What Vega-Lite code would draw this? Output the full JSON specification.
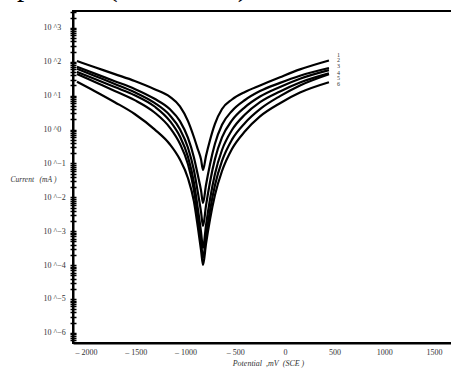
{
"$schema": "https://vega.github.io/schema/vega-lite/v6.json",
"width": 380, "height": 332,
"autosize": {"type": "none"},
"padding": {"left": 73, "top": 11, "right": 0, "bottom": 26},
"background": "white",
"title": {"text": "compounds (not shown)", "anchor": "start", "frame": "group", "font": "Liberation Serif", "fontSize": 29, "fontWeight": "normal", "color": "black", "baseline": "alphabetic", "offset": 0, "dx": -106, "dy": 17},
"config": {"view": {"stroke": "black", "strokeWidth": 2}},
"datasets": {
"curves": [
{"curve":"1","potential_mV":-2090,"log10_current_mA":2.024},{"curve":"1","potential_mV":-1910,"log10_current_mA":1.841},{"curve":"1","potential_mV":-1710,"log10_current_mA":1.637},{"curve":"1","potential_mV":-1510,"log10_current_mA":1.434},{"curve":"1","potential_mV":-1310,"log10_current_mA":1.192},{"curve":"1","potential_mV":-1155,"log10_current_mA":0.964},{"curve":"1","potential_mV":-1055,"log10_current_mA":0.684},{"curve":"1","potential_mV":-975,"log10_current_mA":0.256},{"curve":"1","potential_mV":-915,"log10_current_mA":-0.219},{"curve":"1","potential_mV":-875,"log10_current_mA":-0.582},{"curve":"1","potential_mV":-843,"log10_current_mA":-0.880},{"curve":"1","potential_mV":-823,"log10_current_mA":-1.193},{"curve":"1","potential_mV":-793,"log10_current_mA":-0.780},{"curve":"1","potential_mV":-753,"log10_current_mA":-0.314},{"curve":"1","potential_mV":-703,"log10_current_mA":0.168},{"curve":"1","potential_mV":-632,"log10_current_mA":0.607},{"curve":"1","potential_mV":-532,"log10_current_mA":0.888},{"curve":"1","potential_mV":-401,"log10_current_mA":1.112},{"curve":"1","potential_mV":-250,"log10_current_mA":1.304},{"curve":"1","potential_mV":-49,"log10_current_mA":1.546},{"curve":"1","potential_mV":152,"log10_current_mA":1.776},{"curve":"1","potential_mV":443,"log10_current_mA":2.039},
{"curve":"2","potential_mV":-2090,"log10_current_mA":1.856},{"curve":"2","potential_mV":-1910,"log10_current_mA":1.652},{"curve":"2","potential_mV":-1710,"log10_current_mA":1.428},{"curve":"2","potential_mV":-1510,"log10_current_mA":1.201},{"curve":"2","potential_mV":-1310,"log10_current_mA":0.908},{"curve":"2","potential_mV":-1155,"log10_current_mA":0.598},{"curve":"2","potential_mV":-1055,"log10_current_mA":0.250},{"curve":"2","potential_mV":-975,"log10_current_mA":-0.240},{"curve":"2","potential_mV":-915,"log10_current_mA":-0.815},{"curve":"2","potential_mV":-875,"log10_current_mA":-1.344},{"curve":"2","potential_mV":-843,"log10_current_mA":-1.795},{"curve":"2","potential_mV":-823,"log10_current_mA":-2.167},{"curve":"2","potential_mV":-793,"log10_current_mA":-1.636},{"curve":"2","potential_mV":-753,"log10_current_mA":-1.028},{"curve":"2","potential_mV":-703,"log10_current_mA":-0.420},{"curve":"2","potential_mV":-632,"log10_current_mA":0.141},{"curve":"2","potential_mV":-532,"log10_current_mA":0.551},{"curve":"2","potential_mV":-401,"log10_current_mA":0.873},{"curve":"2","potential_mV":-250,"log10_current_mA":1.136},{"curve":"2","potential_mV":-49,"log10_current_mA":1.378},{"curve":"2","potential_mV":152,"log10_current_mA":1.590},{"curve":"2","potential_mV":443,"log10_current_mA":1.818},
{"curve":"3","potential_mV":-2090,"log10_current_mA":1.797},{"curve":"3","potential_mV":-1910,"log10_current_mA":1.584},{"curve":"3","potential_mV":-1710,"log10_current_mA":1.348},{"curve":"3","potential_mV":-1510,"log10_current_mA":1.103},{"curve":"3","potential_mV":-1310,"log10_current_mA":0.787},{"curve":"3","potential_mV":-1155,"log10_current_mA":0.415},{"curve":"3","potential_mV":-1055,"log10_current_mA":0.011},{"curve":"3","potential_mV":-975,"log10_current_mA":-0.529},{"curve":"3","potential_mV":-915,"log10_current_mA":-1.193},{"curve":"3","potential_mV":-875,"log10_current_mA":-1.854},{"curve":"3","potential_mV":-843,"log10_current_mA":-2.427},{"curve":"3","potential_mV":-823,"log10_current_mA":-2.846},{"curve":"3","potential_mV":-793,"log10_current_mA":-2.247},{"curve":"3","potential_mV":-753,"log10_current_mA":-1.553},{"curve":"3","potential_mV":-703,"log10_current_mA":-0.872},{"curve":"3","potential_mV":-632,"log10_current_mA":-0.231},{"curve":"3","potential_mV":-532,"log10_current_mA":0.271},{"curve":"3","potential_mV":-401,"log10_current_mA":0.663},{"curve":"3","potential_mV":-250,"log10_current_mA":0.976},{"curve":"3","potential_mV":-49,"log10_current_mA":1.260},{"curve":"3","potential_mV":152,"log10_current_mA":1.502},{"curve":"3","potential_mV":443,"log10_current_mA":1.756},
{"curve":"4","potential_mV":-2090,"log10_current_mA":1.705},{"curve":"4","potential_mV":-1910,"log10_current_mA":1.493},{"curve":"4","potential_mV":-1710,"log10_current_mA":1.254},{"curve":"4","potential_mV":-1510,"log10_current_mA":1.015},{"curve":"4","potential_mV":-1310,"log10_current_mA":0.681},{"curve":"4","potential_mV":-1155,"log10_current_mA":0.250},{"curve":"4","potential_mV":-1055,"log10_current_mA":-0.207},{"curve":"4","potential_mV":-975,"log10_current_mA":-0.798},{"curve":"4","potential_mV":-915,"log10_current_mA":-1.550},{"curve":"4","potential_mV":-875,"log10_current_mA":-2.336},{"curve":"4","potential_mV":-843,"log10_current_mA":-3.020},{"curve":"4","potential_mV":-823,"log10_current_mA":-3.496},{"curve":"4","potential_mV":-793,"log10_current_mA":-2.828},{"curve":"4","potential_mV":-753,"log10_current_mA":-2.064},{"curve":"4","potential_mV":-703,"log10_current_mA":-1.311},{"curve":"4","potential_mV":-632,"log10_current_mA":-0.603},{"curve":"4","potential_mV":-532,"log10_current_mA":-0.013},{"curve":"4","potential_mV":-401,"log10_current_mA":0.445},{"curve":"4","potential_mV":-250,"log10_current_mA":0.811},{"curve":"4","potential_mV":-49,"log10_current_mA":1.127},{"curve":"4","potential_mV":152,"log10_current_mA":1.390},{"curve":"4","potential_mV":443,"log10_current_mA":1.658},
{"curve":"5","potential_mV":-2090,"log10_current_mA":1.640},{"curve":"5","potential_mV":-1910,"log10_current_mA":1.404},{"curve":"5","potential_mV":-1710,"log10_current_mA":1.142},{"curve":"5","potential_mV":-1510,"log10_current_mA":0.870},{"curve":"5","potential_mV":-1310,"log10_current_mA":0.504},{"curve":"5","potential_mV":-1155,"log10_current_mA":0.052},{"curve":"5","potential_mV":-1055,"log10_current_mA":-0.420},{"curve":"5","potential_mV":-975,"log10_current_mA":-1.016},{"curve":"5","potential_mV":-915,"log10_current_mA":-1.781},{"curve":"5","potential_mV":-875,"log10_current_mA":-2.601},{"curve":"5","potential_mV":-843,"log10_current_mA":-3.322},{"curve":"5","potential_mV":-823,"log10_current_mA":-3.791},{"curve":"5","potential_mV":-793,"log10_current_mA":-3.147},{"curve":"5","potential_mV":-753,"log10_current_mA":-2.392},{"curve":"5","potential_mV":-703,"log10_current_mA":-1.645},{"curve":"5","potential_mV":-632,"log10_current_mA":-0.925},{"curve":"5","potential_mV":-532,"log10_current_mA":-0.296},{"curve":"5","potential_mV":-401,"log10_current_mA":0.197},{"curve":"5","potential_mV":-250,"log10_current_mA":0.604},{"curve":"5","potential_mV":-49,"log10_current_mA":0.988},{"curve":"5","potential_mV":152,"log10_current_mA":1.304},{"curve":"5","potential_mV":443,"log10_current_mA":1.635},
{"curve":"6","potential_mV":-2090,"log10_current_mA":1.413},{"curve":"6","potential_mV":-1910,"log10_current_mA":1.133},{"curve":"6","potential_mV":-1710,"log10_current_mA":0.808},{"curve":"6","potential_mV":-1510,"log10_current_mA":0.460},{"curve":"6","potential_mV":-1310,"log10_current_mA":0.005},{"curve":"6","potential_mV":-1155,"log10_current_mA":-0.441},{"curve":"6","potential_mV":-1055,"log10_current_mA":-0.886},{"curve":"6","potential_mV":-975,"log10_current_mA":-1.429},{"curve":"6","potential_mV":-915,"log10_current_mA":-2.111},{"curve":"6","potential_mV":-875,"log10_current_mA":-2.882},{"curve":"6","potential_mV":-843,"log10_current_mA":-3.555},{"curve":"6","potential_mV":-823,"log10_current_mA":-3.997},{"curve":"6","potential_mV":-793,"log10_current_mA":-3.372},{"curve":"6","potential_mV":-753,"log10_current_mA":-2.654},{"curve":"6","potential_mV":-703,"log10_current_mA":-1.934},{"curve":"6","potential_mV":-632,"log10_current_mA":-1.223},{"curve":"6","potential_mV":-532,"log10_current_mA":-0.573},{"curve":"6","potential_mV":-401,"log10_current_mA":-0.051},{"curve":"6","potential_mV":-250,"log10_current_mA":0.389},{"curve":"6","potential_mV":-49,"log10_current_mA":0.779},{"curve":"6","potential_mV":152,"log10_current_mA":1.091},{"curve":"6","potential_mV":443,"log10_current_mA":1.395}
],
"labels": [
{"curve":"1","potential_mV":525,"log10_current_mA":2.201},{"curve":"2","potential_mV":525,"log10_current_mA":2.054},{"curve":"3","potential_mV":525,"log10_current_mA":1.877},{"curve":"4","potential_mV":525,"log10_current_mA":1.679},{"curve":"5","potential_mV":525,"log10_current_mA":1.531},{"curve":"6","potential_mV":525,"log10_current_mA":1.354}
]
},
"resolve": {"axis": {"y": "independent"}},
"layer": [
{
"data": {"name": "curves"},
"mark": {"type": "line", "color": "black", "strokeWidth": 2.2, "interpolate": "monotone", "strokeJoin": "round"},
"encoding": {
"x": {"field": "potential_mV", "type": "quantitative", "scale": {"domain": [-2130, 1690], "nice": false, "zero": false},
 "axis": {"values": [-2000,-1500,-1000,-500,0,500,1000,1500], "labelExpr": "datum.value < 0 ? '\u2013 ' + (-datum.value) : '' + datum.value", "ticks": false, "tickSize": 0, "grid": false, "domainColor": "black", "domainWidth": 2, "labelFont": "Liberation Serif", "labelFontSize": 8, "labelColor": "#333", "labelPadding": 5, "labelOverlap": false, "title": "Potential\u00a0\u00a0,mV\u00a0\u00a0(SCE\u00a0)", "titleFont": "Liberation Serif", "titleFontStyle": "italic", "titleFontWeight": "normal", "titleFontSize": 8, "titleColor": "#333", "titleX": 195, "titleY": 20, "titleBaseline": "middle", "titleAlign": "center"}},
"y": {"field": "log10_current_mA", "type": "quantitative", "scale": {"domain": [-6.3, 3.5], "nice": false, "zero": false},
 "axis": {"orient": "left", "values": [-6.222,-6.155,-6.097,-6.046,-6,-5.699,-5.523,-5.398,-5.301,-5.222,-5.155,-5.097,-5.046,-5,-4.699,-4.523,-4.398,-4.301,-4.222,-4.155,-4.097,-4.046,-4,-3.699,-3.523,-3.398,-3.301,-3.222,-3.155,-3.097,-3.046,-3,-2.699,-2.523,-2.398,-2.301,-2.222,-2.155,-2.097,-2.046,-2,-1.699,-1.523,-1.398,-1.301,-1.222,-1.155,-1.097,-1.046,-1,-0.699,-0.523,-0.398,-0.301,-0.222,-0.155,-0.097,-0.046,0,0.301,0.477,0.602,0.699,0.778,0.845,0.903,0.954,1,1.301,1.477,1.602,1.699,1.778,1.845,1.903,1.954,2,2.301,2.477,2.602,2.699,2.778,2.845,2.903,2.954,3,3.301,3.477],
 "labelExpr": "abs(datum.value - round(datum.value)) < 0.0001 ? '10 ^' + (datum.value < 0 ? '\u2212' + abs(round(datum.value)) : '' + round(datum.value)) : ''",
 "labelOverlap": false, "labelAlign": "left", "labelBaseline": "middle", "labelPadding": 27, "tickSize": 3, "tickColor": "black", "tickWidth": 1.5, "grid": false, "domainColor": "black", "domainWidth": 2, "labelFont": "Liberation Serif", "labelFontSize": 8, "labelColor": "#333",
 "title": "Current\u00a0\u00a0\u00a0(mA\u00a0)", "titleFont": "Liberation Serif", "titleFontStyle": "italic", "titleFontWeight": "normal", "titleFontSize": 7.5, "titleColor": "#333", "titleAngle": 0, "titleX": -40, "titleY": 168, "titleAlign": "center", "titleBaseline": "middle"}},
"detail": {"field": "curve", "type": "nominal"}
}
},
{
"data": {"name": "labels"},
"mark": {"type": "text", "font": "Liberation Serif", "fontSize": 6, "color": "#333", "align": "left", "baseline": "middle"},
"encoding": {
"x": {"field": "potential_mV", "type": "quantitative", "scale": {"domain": [-2130, 1690], "nice": false, "zero": false}},
"y": {"field": "log10_current_mA", "type": "quantitative", "scale": {"domain": [-6.3, 3.5], "nice": false, "zero": false},
 "axis": {"orient": "left", "values": [-6.222,-6.155,-6.097,-6.046,-6,-5.699,-5.523,-5.398,-5.301,-5.222,-5.155,-5.097,-5.046,-5,-4.699,-4.523,-4.398,-4.301,-4.222,-4.155,-4.097,-4.046,-4,-3.699,-3.523,-3.398,-3.301,-3.222,-3.155,-3.097,-3.046,-3,-2.699,-2.523,-2.398,-2.301,-2.222,-2.155,-2.097,-2.046,-2,-1.699,-1.523,-1.398,-1.301,-1.222,-1.155,-1.097,-1.046,-1,-0.699,-0.523,-0.398,-0.301,-0.222,-0.155,-0.097,-0.046,0,0.301,0.477,0.602,0.699,0.778,0.845,0.903,0.954,1,1.301,1.477,1.602,1.699,1.778,1.845,1.903,1.954,2,2.301,2.477,2.602,2.699,2.778,2.845,2.903,2.954,3,3.301,3.477],
 "labels": false, "domain": false, "grid": false, "tickSize": -3, "tickColor": "black", "tickWidth": 1.5, "title": null}},
"text": {"field": "curve", "type": "nominal"}
}
}
]
}
